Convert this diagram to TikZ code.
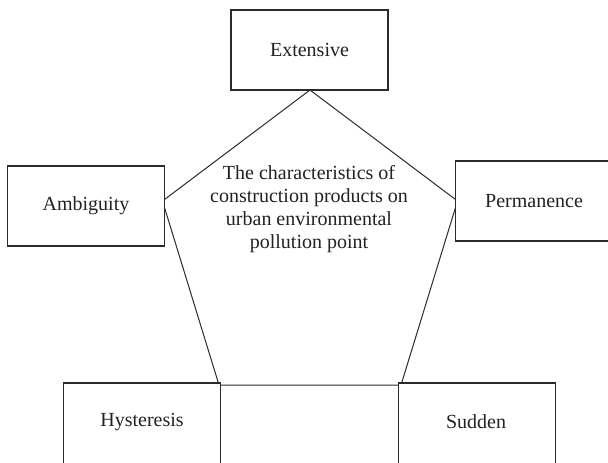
\documentclass[tikz,border=0pt]{standalone}
\usepackage{fontspec}
\setmainfont{Liberation Serif}
\definecolor{linec}{HTML}{2B2B2B}
\definecolor{textc}{HTML}{222222}
\tikzset{
  box/.style={draw=linec, line width=0.55pt, fill=white, rectangle, inner sep=0pt,
    minimum width=78.5pt, minimum height=40pt, text=textc, font=\fontsize{10}{11.5}\selectfont},
  edge/.style={draw=linec, line width=0.5pt}
}
\begin{document}
\begin{tikzpicture}[x=0.5pt, y=-0.5pt]
\useasboundingbox (0,0) rectangle (608,462);
\clip (0,0) rectangle (608,462);
% pentagon vertices
\coordinate (vt) at (310,90);
\coordinate (vl) at (162.5,201);
\coordinate (vr) at (457.5,201);
\coordinate (vbl) at (219,385);
\coordinate (vbr) at (401,385);
\draw[edge] (vt) -- (vr) -- (vbr) -- (vbl) -- (vl) -- cycle;
% boxes
\node[box] (ext) at (309.5,50) {Extensive};
\node[box] (amb) at (86,206) {Ambiguity};
\node[box] (per) at (534,201) {Permanence};
\node[box, minimum height=45pt] (hys) at (142,428) {};
\node[box, minimum height=45pt] (sud) at (477,428) {};
\node[text=textc, font=\fontsize{10}{11.5}\selectfont] (hyst) at (142,422) {Hysteresis};
\node[text=textc, font=\fontsize{10}{11.5}\selectfont] (sudt) at (476,422) {Sudden};
% center text
\node[align=center, text=textc, font=\fontsize{10}{11.5}\selectfont] (center) at (309,209)
  {The characteristics of\\construction products on\\urban environmental\\pollution point};
\end{tikzpicture}
\end{document}
